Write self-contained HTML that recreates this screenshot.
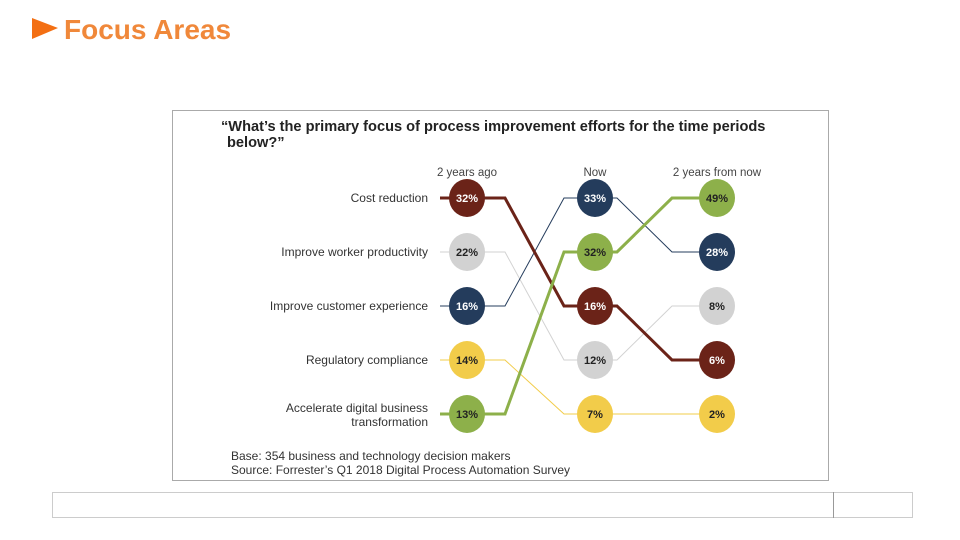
<!DOCTYPE html>
<html><head><meta charset="utf-8"><style>
body{margin:0;width:960px;height:540px;background:#fff;font-family:"Liberation Sans",sans-serif;position:relative;overflow:hidden}
.t{position:absolute;left:64px;top:14px;font-size:28px;font-weight:bold;color:#f0883a}
</style></head><body>
<svg style="position:absolute;left:32px;top:18px" width="28" height="22"><polygon points="0,0 26,10 0,21" fill="#f36f13"/></svg>
<div class="t">Focus Areas</div>
<svg id="c" width="960" height="540" style="position:absolute;left:0;top:0">
<rect x="172.5" y="110.5" width="656" height="370" fill="none" stroke="#aaa"/>
<text x="221" y="131" font-size="14.6" font-weight="bold" fill="#222">“What’s the primary focus of process improvement efforts for the time periods</text>
<text x="227" y="147" font-size="14.6" font-weight="bold" fill="#222">below?”</text>
<text x="231" y="460" font-size="12" fill="#333">Base: 354 business and technology decision makers</text>
<text x="231" y="474" font-size="12" fill="#333">Source: Forrester’s Q1 2018 Digital Process Automation Survey</text>
<rect x="52.5" y="492.5" width="860" height="25" fill="none" stroke="#999" stroke-dasharray="1,1"/>
<line x1="833.5" y1="492" x2="833.5" y2="518" stroke="#999"/>
<g id="g"></g>
</svg>
<script>
const periods=["2 years ago","Now","2 years from now"];
const categories=["Cost reduction","Improve worker productivity","Improve customer experience","Regulatory compliance","Accelerate digital business transformation"];
const costReduction=[32,16,6];
const workerProductivity=[22,12,8];
const customerExperience=[16,33,28];
const regulatoryCompliance=[14,7,2];
const digitalTransformation=[13,32,49];
const series=[costReduction,workerProductivity,customerExperience,regulatoryCompliance,digitalTransformation];
const colors=["#6b2318","#d2d2d2","#243c5c","#f2cc4a","#8db04a"];
const widths=[3,1,1,1,3];
const textCol=["#fff","#222","#fff","#222","#222"];
const NS="http://www.w3.org/2000/svg",g=document.getElementById("g");
const colX=i=>[467,595,717][i];
const rowY=r=>198+r*54;
function mk(t,a,p){const e=document.createElementNS(NS,t);for(const k in a)e.setAttribute(k,a[k]);(p||g).appendChild(e);return e;}
const ranks=periods.map((_,p)=>{const v=series.map((s,i)=>[s[p],i]).sort((a,b)=>b[0]-a[0]);const r=[];v.forEach((x,k)=>r[x[1]]=k);return r;});
periods.forEach((p,i)=>{const t=mk("text",{x:colX(i),y:176,"font-size":11.5,fill:"#444","text-anchor":"middle"});t.textContent=p;

});
categories.forEach((c,i)=>{const y=rowY(ranks[0][i]);
if(i==4){[["Accelerate digital business",y-6],["transformation",y+8]].forEach(([s,yy])=>{const t=mk("text",{x:428,y:yy+4,"font-size":12,fill:"#333","text-anchor":"end"});t.textContent=s;

});}
else{const t=mk("text",{x:428,y:y+4,"font-size":12,fill:"#333","text-anchor":"end"});t.textContent=c;

}});
const order=[1,3,2,0,4];
order.forEach(i=>{const s=series[i];let d=`M440 ${rowY(ranks[0][i])} L${colX(0)} ${rowY(ranks[0][i])}`;
d+=` L${colX(0)+38} ${rowY(ranks[0][i])} L${colX(1)-31} ${rowY(ranks[1][i])} L${colX(1)} ${rowY(ranks[1][i])}`;
d+=` L${colX(1)+22} ${rowY(ranks[1][i])} L${colX(2)-45} ${rowY(ranks[2][i])} L${colX(2)} ${rowY(ranks[2][i])}`;
const l=mk("path",{d:d,fill:"none",stroke:colors[i],"stroke-width":widths[i]});

});
order.forEach(i=>{series[i].forEach((v,p)=>{const cx=colX(p),cy=rowY(ranks[p][i]);
const c=mk("ellipse",{cx:cx,cy:cy,rx:18,ry:19,fill:colors[i]});


const t=mk("text",{x:cx,y:cy+4,"font-size":11,"font-weight":"bold",fill:textCol[i],"text-anchor":"middle"});t.textContent=v+"%";

});});
</script>
</body></html>
